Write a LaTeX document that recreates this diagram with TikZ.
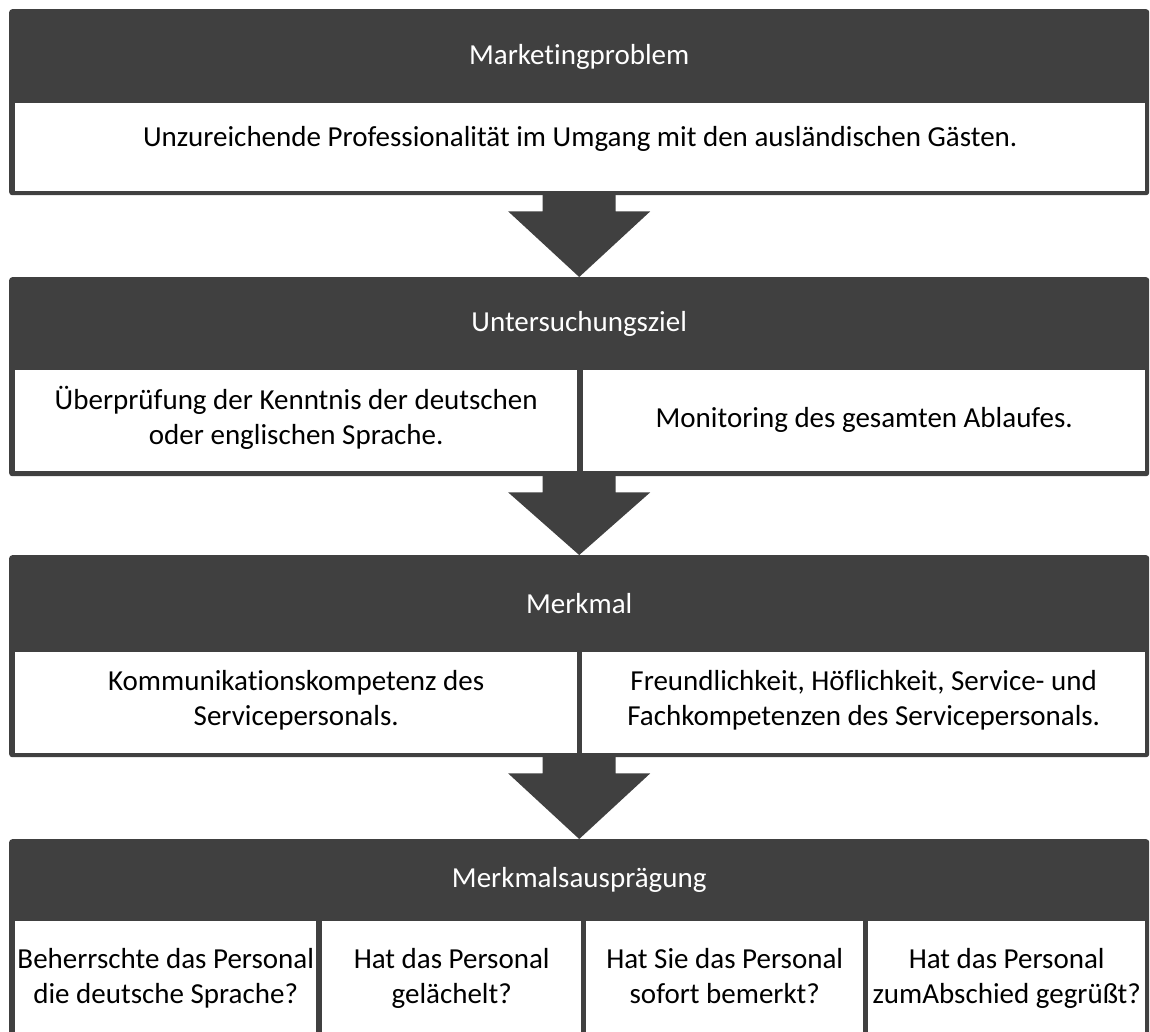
\documentclass[tikz,border=0pt]{standalone}
\usepackage{fontspec}
\setmainfont{Carlito}[Ligatures=NoCommon]
\usetikzlibrary{calc}

\definecolor{framegray}{HTML}{404040}

% block arrow from the bottom of one block to the top of the next
\newcommand{\flowarrow}[2]{%
  \fill[framegray]
    ($(#1.south)+(-36.5,-3)$) -- ($(#1.south)+(-36.5,16)$) -- ($(#1.south)+(-71,16)$)
    -- (#2.north) -- ($(#1.south)+(71,16)$) -- ($(#1.south)+(36.5,16)$)
    -- ($(#1.south)+(36.5,-3)$) -- cycle;}

\begin{document}
\begin{tikzpicture}[
    x=1pt, y=-1pt,
    font=\fontsize{29}{35}\selectfont,
    frame/.style={fill=framegray, rounded corners=3pt, inner sep=0pt, anchor=north west,
                  minimum width=1140pt},
    head/.style={text=white, inner sep=0pt},
    cell/.style={fill=white, inner sep=0pt, align=center, anchor=north west,
                 execute at begin node=\strut, execute at end node=\strut},
]

    \clip (0,0) rectangle (1150,1031);
    \fill[white] (0,0) rectangle (1150,1031);

    %==================== MARKETINGPROBLEM ====================
    \node[frame, minimum height=186pt] (prob) at (9,9) {};
    \node[head] (probhead) at ($(prob.north)+(0,48)$) {Marketingproblem};
    \node[cell, minimum width=1130pt, minimum height=88pt] (probcell) at (15,103) {};
    \node[inner sep=0pt] (probtxt) at ([yshift=8pt]probcell.center)
        {Unzureichende Professionalität im Umgang mit den ausländischen Gästen.};

    %==================== UNTERSUCHUNGSZIEL ====================
    \node[frame, minimum height=199pt] (ziel) at (9,277) {};
    \node[head] (zielhead) at ($(ziel.north)+(0,46.5)$) {Untersuchungsziel};
    \node[cell, minimum width=562pt, minimum height=101pt] (ziel1) at (15,370)
        {Überprüfung der Kenntnis der deutschen\\oder englischen Sprache.};
    \node[cell, minimum width=562pt, minimum height=101pt] (ziel2) at (583,370)
        {Monitoring des gesamten Ablaufes.};

    \flowarrow{prob}{ziel}

    %==================== MERKMAL ====================
    \node[frame, minimum height=202pt] (merk) at (9,555) {};
    \node[head] (merkhead) at ($(merk.north)+(0,48.5)$) {Merkmal};
    \node[cell, minimum width=562pt, minimum height=101pt] (merk1) at (15,652)
        {Kommunikationskompetenz des\\Servicepersonals.};
    \node[cell, minimum width=563pt, minimum height=101pt] (merk2) at (582,652)
        {Freundlichkeit, Höflichkeit, Service- und\\Fachkompetenzen des Servicepersonals.};

    \flowarrow{ziel}{merk}

    %==================== MERKMALSAUSPRAEGUNG ====================
    \node[frame, minimum height=230pt] (auspr) at (9,839) {};
    \node[head] (ausprhead) at ($(auspr.north)+(0,41)$) {Merkmalsausprägung};
    \node[cell, minimum width=301pt, minimum height=119pt] (auspr1) at (15,921)
        {Beherrschte das Personal\\die deutsche Sprache?};
    \node[cell, minimum width=259pt, minimum height=119pt] (auspr2) at (322,921)
        {Hat das Personal\\gelächelt?};
    \node[cell, minimum width=277pt, minimum height=119pt] (auspr3) at (586,921)
        {Hat Sie das Personal\\sofort bemerkt?};
    \node[cell, minimum width=277pt, minimum height=119pt] (auspr4) at (868,921)
        {Hat das Personal\\zumAbschied gegrüßt?};

    \flowarrow{merk}{auspr}

\end{tikzpicture}
\end{document}
